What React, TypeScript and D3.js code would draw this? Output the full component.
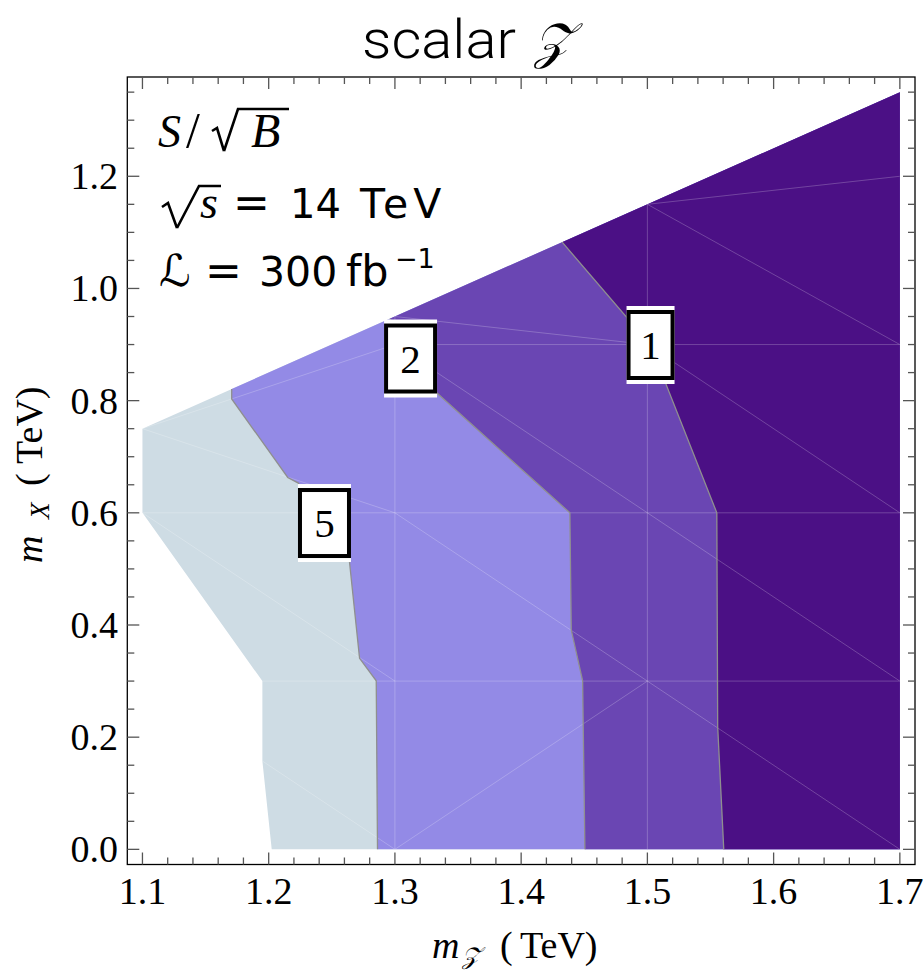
import React from 'react';
import * as d3 from 'd3';

// plot frame (padded ranges like the original)
const X_DOMAIN = [1.088, 1.712];
const Y_DOMAIN = [-0.027, 1.377];

const xMajor = [1.1, 1.2, 1.3, 1.4, 1.5, 1.6, 1.7];
const yMajor = [0, 0.2, 0.4, 0.6, 0.8, 1.0, 1.2];

// outline of the region where the significance was computed
const region: [number, number][] = [
  [1.1, 0.75], [1.7, 1.35], [1.7, 0], [1.2024, 0], [1.195, 0.1575], [1.195, 0.3], [1.1, 0.6],
];

// contour lines, from the upper edge down to m_X = 0
const contour5: [number, number][] = [
  [1.1707, 0.8207], [1.1707, 0.803], [1.2151, 0.663], [1.2235, 0.653], [1.2443, 0.582],
  [1.264, 0.513], [1.272, 0.3405], [1.2852, 0.3005], [1.2862, 0],
];
const contour2: [number, number][] = [
  [1.296, 0.946], [1.3124, 0.875], [1.3333, 0.8137], [1.4386, 0.6], [1.4397, 0.391],
  [1.4487, 0.3005], [1.4505, 0],
];
const contour1: [number, number][] = [
  [1.4325, 1.0825], [1.5025, 0.899], [1.555, 0.6], [1.5557, 0.218], [1.5605, 0],
];

const bandColors = ['#cedce4', '#938ae6', '#6a46b3', '#4b1085'];

// triangulation mesh of the sample points
const meshEdges: [number, number][][] = [
  [[1.3, 0], [1.3, 0.95]], [[1.5, 0], [1.5, 1.15]],
  [[1.1, 0.3], [1.7, 0.3]], [[1.1, 0.6], [1.7, 0.6]], [[1.3, 0.9], [1.7, 0.9]],
  [[1.1, 0.3], [1.3, 0]], [[1.3, 0], [1.5, 0.3]], [[1.5, 0.3], [1.7, 0]],
  [[1.1, 0.6], [1.3, 0.3]], [[1.3, 0.6], [1.5, 0.3]], [[1.5, 0.6], [1.7, 0.3]],
  [[1.1, 0.75], [1.3, 0.6]], [[1.1, 0.75], [1.3, 0.9]], [[1.3, 0.9], [1.5, 0.6]],
  [[1.3, 0.95], [1.5, 0.9]], [[1.5, 0.9], [1.7, 0.6]], [[1.5, 1.15], [1.7, 0.9]],
  [[1.5, 1.15], [1.7, 1.2]],
];

const contourLabels = [
  { text: '5', x: 1.2442, y: 0.5818, w: 53 },
  { text: '2', x: 1.3124, y: 0.8751, w: 53 },
  { text: '1', x: 1.5025, y: 0.8992, w: 48 },
];

const SERIF = '"Liberation Serif", "DejaVu Serif", serif';
const SANS = '"DejaVu Sans", "Liberation Sans", sans-serif';

export default function App() {
  const x = d3.scaleLinear().domain(X_DOMAIN).range([127.3, 915]);
  const y = d3.scaleLinear().domain(Y_DOMAIN).range([864.5, 77]);
  const line = d3.line<[number, number]>().x(d => x(d[0])).y(d => y(d[1]));
  const fmt = d3.format('.1f');

  const xMinor = d3.range(1.1, 1.7001, 0.02);
  const yMinor = d3.range(0, 1.3501, 0.05);

  // every band = right of its contour, closed along the right and upper edges
  const bands = [region, contour5, contour2, contour1].map((c, i) =>
    i === 0 ? c : [...c, [1.7, 0], [1.7, 1.35]] as [number, number][]);

  const [x0, x1] = x.range();
  const [yb, yt] = y.range();

  return (
    <svg width={924} height={971} style={{ position: 'absolute', left: 0, top: 0, background: '#fff' }}>
      <defs>
        <clipPath id="region">
          <path d={line(region) + 'Z'} />
        </clipPath>
      </defs>

      <text y={58} fontSize={54} fontFamily='Roboto, "Liberation Sans", sans-serif' fontWeight={300}>
        <tspan x={362} textLength={154} lengthAdjust="spacingAndGlyphs">scalar</tspan>
        <tspan x={534} fontFamily={SERIF} fontStyle="italic" fontSize={50} fontWeight={400}>𝒵</tspan>
      </text>

      {bands.map((b, i) => (
        <path key={i} d={line(b) + 'Z'} fill={bandColors[i]} />
      ))}

      <g clipPath="url(#region)">
        {meshEdges.map((e, i) => (
          <path key={i} d={line(e)!} stroke="#fff" strokeOpacity={0.28} strokeWidth={0.8} fill="none" />
        ))}
      </g>

      {[contour5, contour2, contour1].map((c, i) => (
        <path key={i} d={line(c)!} stroke="#8f8f8f" strokeWidth={1.3} fill="none" />
      ))}

      {contourLabels.map(l => {
        const cx = x(l.x), cy = y(l.y);
        return (
          <g key={l.text}>
            <rect x={cx - l.w / 2} y={cy - 39} width={l.w} height={78} fill="#fff" />
            <rect x={cx - l.w / 2 + 2} y={cy - 33} width={l.w - 4} height={66} fill="none" stroke="#000" strokeWidth={4} />
            <text x={cx} y={cy + 14} textAnchor="middle" fontSize={41} fontFamily={SERIF}>{l.text}</text>
          </g>
        );
      })}

      {/* frame */}
      <rect x={x0} y={yt} width={x1 - x0} height={yb - yt} fill="none" stroke="#000" strokeWidth={1.3} />
      <g stroke="#555" strokeWidth={1.3}>
        {xMinor.map((v, i) => {
          const len = xMajor.some(m => Math.abs(m - v) < 1e-6) ? 12 : 7;
          return (
            <g key={i}>
              <line x1={x(v)} x2={x(v)} y1={yb} y2={yb - len} />
              <line x1={x(v)} x2={x(v)} y1={yt} y2={yt + len} />
            </g>
          );
        })}
        {yMinor.map((v, i) => {
          const len = yMajor.some(m => Math.abs(m - v) < 1e-6) ? 12 : 7;
          return (
            <g key={i}>
              <line x1={x0} x2={x0 + len} y1={y(v)} y2={y(v)} />
              <line x1={x1} x2={x1 - len} y1={y(v)} y2={y(v)} />
            </g>
          );
        })}
      </g>

      {xMajor.map(v => (
        <text key={v} x={x(v)} y={904} textAnchor="middle" fontSize={38} fontFamily={SERIF}>{fmt(v)}</text>
      ))}
      {yMajor.map(v => (
        <text key={v} x={118} y={y(v) + 13} textAnchor="end" fontSize={38} fontFamily={SERIF}>{fmt(v)}</text>
      ))}

      {/* axis labels */}
      <text y={958} fontSize={38} fontFamily={SERIF}>
        <tspan x={432} fontStyle="italic">m</tspan>
        <tspan x={462} fontStyle="italic" fontSize={24} dy={6}>𝒵</tspan>
        <tspan x={500} dy={-6}>(</tspan>
        <tspan x={520}>TeV)</tspan>
      </text>
      <text transform="translate(42,563) rotate(-90)" fontSize={38} fontFamily={SERIF}>
        <tspan x={0} fontStyle="italic">m</tspan>
        <tspan x={44} fontStyle="italic" fontSize={27} dy={7}>X</tspan>
        <tspan x={77} dy={-7}>(</tspan>
        <tspan x={99}>TeV)</tspan>
      </text>

      {/* annotation: S/√B, √s = 14 TeV, L = 300 fb^-1 */}
      <g fill="none" stroke="#000" strokeLinejoin="miter">
        <path d="M212,131 L217,128 L224,151 M224,151 L238,109 L289,109" strokeWidth={2.6} />
        <path d="M162,207 L168,203 L177,228 M177,228 L199,186 L221,186" strokeWidth={2.6} />
      </g>
      <text y={147} fontSize={46} fontFamily={SERIF} fontStyle="italic">
        <tspan x={158}>S</tspan>
        <tspan x={186} fontStyle="normal" fontSize={50}>/</tspan>
        <tspan x={251} fontSize={48}>B</tspan>
      </text>

      <text y={218} fontSize={44} fontFamily={SANS}>
        <tspan x={200} fontFamily={SERIF} fontSize={46} fontStyle="italic">s</tspan>
        <tspan x={233}>=</tspan>
        <tspan x={290} fontSize={40}>14</tspan>
        <tspan x={360} fontSize={41} letterSpacing={5}>TeV</tspan>
      </text>

      <text y={286} fontSize={44} fontFamily={SANS}>
        <tspan x={159}>ℒ</tspan>
        <tspan x={205}>=</tspan>
        <tspan x={259} fontSize={41}>300</tspan>
        <tspan x={346} fontSize={43}>fb</tspan>
        <tspan x={395} fontSize={27} y={268}>−1</tspan>
      </text>
    </svg>
  );
}
